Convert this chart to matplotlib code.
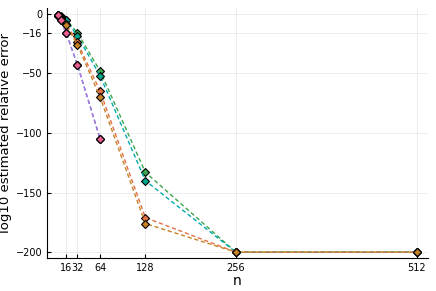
import numpy as np
import matplotlib.pyplot as plt

# sample sizes
n = [4, 8, 16, 32, 64, 128, 256, 512]
n_short = [4, 8, 16, 32, 64]

# log10 estimated relative error
err_pink = [-1.0, -5.6, -16, -43, -105]
err_orange_a = [-1.5, -3.5, -8.4, -24, -65, -171, -200, -200]
err_orange_b = [-1.8, -4.0, -9.5, -26, -70, -176, -200, -200]
err_green_a = [-1.2, -2.0, -5.0, -16, -48, -133, -200, -200]
err_green_b = [-1.4, -2.3, -5.6, -18.5, -52, -140, -200, -200]

xticks = [16, 32, 64, 128, 256, 512]
yticks = [0, -16, -50, -100, -150, -200]

fig = plt.figure(figsize=(4.36, 2.91), dpi=100)
ax = fig.add_axes([0.108, 0.113, 0.874, 0.86])

mk = dict(marker='D', markersize=4.5, markeredgecolor='black', markeredgewidth=0.8)
ls = dict(linestyle=(0, (3, 2)), lw=1)

ax.plot(n_short, err_pink, color='#009AFA', **ls, **mk, markerfacecolor='#009AFA')
ax.plot(n_short, err_pink, color='#C271D2', **ls, **mk, markerfacecolor='#C271D2')
ax.plot(n, err_green_a, color='#3EA44E', **ls, **mk, markerfacecolor='#3EA44E')
ax.plot(n, err_green_b, color='#00A9AD', **ls, **mk, markerfacecolor='#00A98D')
ax.plot(n, err_orange_a, color='#E36F47', **ls, **mk, markerfacecolor='#E36F47')
ax.plot(n, err_orange_b, color='#C68225', **ls, **mk, markerfacecolor='#C68225')
ax.plot(n_short, err_pink, linestyle='none', **mk, markerfacecolor='#ED5F92')

ax.set_xlim(-11, 528)
ax.set_ylim(-205, 5)
ax.set_xticks(xticks)
ax.set_yticks(yticks)
ax.set_yticklabels(['0', '\u221216', '\u221250', '\u2212100', '\u2212150', '\u2212200'])
ax.tick_params(direction='in', labelsize=7, length=3, colors='black')
ax.grid(True, color='black', alpha=0.08, lw=0.6)
ax.spines['top'].set_visible(False)
ax.spines['right'].set_visible(False)
ax.set_xlabel('n', fontsize=10, labelpad=1)
ax.set_ylabel('log10 estimated relative error', fontsize=9.5)
ax.yaxis.set_label_coords(-0.092, 0.5)

fig.savefig('out.png', dpi=100)
